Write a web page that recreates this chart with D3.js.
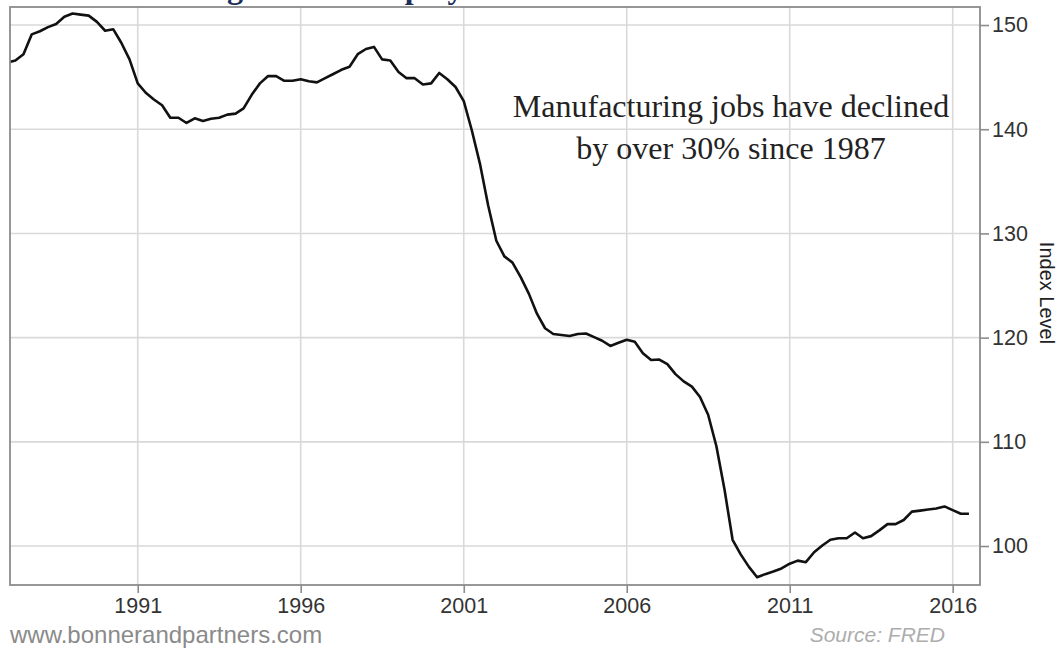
<!DOCTYPE html>
<html>
<head>
<meta charset="utf-8">
<script src="https://cdn.jsdelivr.net/npm/d3@7"></script>
<style>
  html, body { margin: 0; padding: 0; background: #fff; }
  svg { display: block; }
</style>
</head>
<body>
<svg id="chart" width="1059" height="650"></svg>
<script>
// Manufacturing Sector: Employment, quarterly index, 1987 Q1 onward
const firstQuarter = new Date(1987, 0, 1);
const employmentIndex = [
  146.4, 146.6, 147.2, 149.1,   // 1987
  149.4, 149.8, 150.1, 150.8,   // 1988
  151.1, 151.0, 150.9, 150.3,   // 1989
  149.45, 149.6, 148.3, 146.7,  // 1990
  144.4, 143.5, 142.85, 142.3,  // 1991
  141.1, 141.1, 140.6, 141.05,  // 1992
  140.8, 141.0, 141.1, 141.4,   // 1993
  141.5, 142.0, 143.3, 144.4,   // 1994
  145.1, 145.1, 144.65, 144.65, // 1995
  144.8, 144.6, 144.5, 144.9,   // 1996
  145.3, 145.7, 146.0, 147.2,   // 1997
  147.7, 147.9, 146.7, 146.6,   // 1998
  145.5, 144.9, 144.9, 144.3,   // 1999
  144.4, 145.4, 144.8, 144.05,  // 2000
  142.7, 139.9, 136.7, 132.7,   // 2001
  129.3, 127.8, 127.2, 125.8,   // 2002
  124.2, 122.3, 120.9, 120.35,  // 2003
  120.25, 120.15, 120.35, 120.4,// 2004
  120.05, 119.7, 119.2, 119.5,  // 2005
  119.8, 119.6, 118.5, 117.85,  // 2006
  117.9, 117.45, 116.5, 115.8,  // 2007
  115.3, 114.3, 112.6, 109.6,   // 2008
  105.4, 100.6, 99.2, 98.0,     // 2009
  97.0, 97.3, 97.55, 97.85,     // 2010
  98.3, 98.6, 98.45, 99.4,      // 2011
  100.05, 100.6, 100.75, 100.75,// 2012
  101.3, 100.75, 100.95, 101.5, // 2013
  102.1, 102.1, 102.5, 103.3,   // 2014
  103.4, 103.5, 103.6, 103.8,   // 2015
  103.45, 103.1, 103.1          // 2016
];
const xTickYears = [1991, 1996, 2001, 2006, 2011, 2016];
const yTickValues = [100, 110, 120, 130, 140, 150];

const titleText = "Manufacturing Sector: Employment";
const noteLines = ["Manufacturing jobs have declined", "by over 30% since 1987"];
const yAxisTitle = "Index Level";
const siteText = "www.bonnerandpartners.com";
const sourceText = "Source: FRED";

const series = employmentIndex.map((v, i) => ({
  date: d3.timeMonth.offset(firstQuarter, 3 * i),
  value: v
}));

const svg = d3.select("#chart");
const plot = { left: 10, right: 980, top: 7, bottom: 585 };

const x = d3.scaleTime()
  .domain([new Date(1987, 0, 31), new Date(2016, 10, 2)])
  .range([plot.left, plot.right]);
const y = d3.scaleLinear()
  .domain([96.26, 151.73])
  .range([plot.bottom, plot.top]);

const xTicks = xTickYears.map(yr => new Date(yr, 0, 1));
const sans = "Liberation Sans, Arial, sans-serif";

// title, mostly above the visible area
svg.append("text")
  .attr("x", 35).attr("y", -2)
  .attr("font-family", "Liberation Serif, serif")
  .attr("font-weight", "bold")
  .attr("font-size", 32)
  .attr("fill", "#1c2e5a")
  .text(titleText);

// grid
const grid = svg.append("g");
grid.selectAll(".gx").data(xTicks).join("line")
  .attr("x1", d => x(d)).attr("x2", d => x(d))
  .attr("y1", plot.top).attr("y2", plot.bottom)
  .attr("stroke", "#d9d9d9").attr("stroke-width", 1.6);
grid.selectAll(".gy").data(yTickValues).join("line")
  .attr("x1", plot.left).attr("x2", plot.right)
  .attr("y1", d => y(d)).attr("y2", d => y(d))
  .attr("stroke", "#d9d9d9").attr("stroke-width", 1.6);

// series line
svg.append("clipPath").attr("id", "plotClip")
  .append("rect")
  .attr("x", plot.left).attr("y", plot.top)
  .attr("width", plot.right - plot.left).attr("height", plot.bottom - plot.top);

const line = d3.line().x(d => x(d.date)).y(d => y(d.value));
svg.append("path")
  .datum(series)
  .attr("clip-path", "url(#plotClip)")
  .attr("d", line)
  .attr("fill", "none")
  .attr("stroke", "#111")
  .attr("stroke-width", 2.6)
  .attr("stroke-linejoin", "round");

// frame
svg.append("rect")
  .attr("x", plot.left).attr("y", plot.top)
  .attr("width", plot.right - plot.left).attr("height", plot.bottom - plot.top)
  .attr("fill", "none").attr("stroke", "#8c8c8c").attr("stroke-width", 1.8);

// x axis
const xAxis = d3.axisBottom(x)
  .tickValues(xTicks)
  .tickFormat(d3.timeFormat("%Y"))
  .tickSize(8).tickPadding(5);
const gx = svg.append("g").attr("transform", `translate(0,${plot.bottom})`).call(xAxis);
gx.select(".domain").remove();
gx.selectAll(".tick line").attr("stroke", "#8c8c8c").attr("stroke-width", 1.6);
gx.selectAll(".tick text")
  .attr("font-family", sans)
  .attr("font-size", 21.5).attr("fill", "#333");

// y axis on the right
const yAxis = d3.axisRight(y)
  .tickValues(yTickValues)
  .tickSize(9).tickPadding(3);
const gy = svg.append("g").attr("transform", `translate(${plot.right},0)`).call(yAxis);
gy.select(".domain").remove();
gy.selectAll(".tick line").attr("stroke", "#8c8c8c").attr("stroke-width", 1.6);
gy.selectAll(".tick text")
  .attr("font-family", sans)
  .attr("font-size", 21.5).attr("fill", "#333");

svg.append("text")
  .attr("transform", "translate(1040,293) rotate(90)")
  .attr("text-anchor", "middle")
  .attr("font-family", sans)
  .attr("font-size", 20).attr("fill", "#222")
  .text(yAxisTitle);

// annotation
svg.append("g").selectAll("text").data(noteLines).join("text")
  .attr("x", 731)
  .attr("y", (d, i) => 117 + i * 42)
  .attr("text-anchor", "middle")
  .attr("font-family", "Liberation Serif, serif")
  .attr("font-size", 32).attr("fill", "#222")
  .text(d => d);

// footer
svg.append("text")
  .attr("x", 10).attr("y", 643)
  .attr("font-family", sans)
  .attr("font-size", 24).attr("fill", "#8a8a8a")
  .text(siteText);
svg.append("text")
  .attr("x", 945).attr("y", 642).attr("text-anchor", "end")
  .attr("font-family", sans)
  .attr("font-style", "italic")
  .attr("font-size", 21).attr("fill", "#adadad")
  .text(sourceText);
</script>
</body>
</html>
